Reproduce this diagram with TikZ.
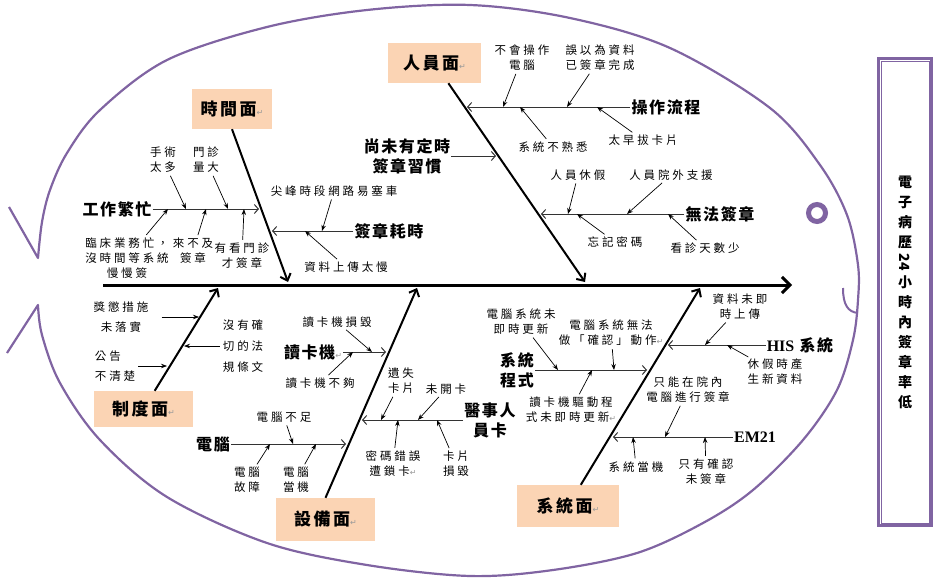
\documentclass[tikz,border=0pt]{standalone}
\usepackage{fontspec}
\setmainfont{Noto Sans CJK TC}
\newfontfamily\cjk{Noto Sans CJK TC}[LetterSpace=25]
\newfontfamily\cjkb{Noto Sans CJK TC}[LetterSpace=10]
\newfontfamily\cjkf{Noto Sans CJK TC}[LetterSpace=15]
\newfontfamily\timesfont{Liberation Serif}
\newfontfamily\symfont{DejaVu Sans}
\usetikzlibrary{arrows.meta}
\definecolor{fishpurple}{RGB}{128,100,162}
\definecolor{facepeach}{RGB}{251,212,180}
\newcommand{\crmark}{{\symfont\mdseries\color{black!40}\fontsize{8}{8}\selectfont ↵}}

\begin{document}
\begin{tikzpicture}[x=1pt, y=-1pt,
  face/.style={shape=rectangle, fill=facepeach, inner sep=0pt, font=\cjkf\fontsize{17}{20}\selectfont\bfseries},
  group/.style={align=center, inner sep=1pt, font=\cjkb\fontsize{16}{20}\selectfont\bfseries},
  cause/.style={align=center, inner sep=1pt, font=\cjk\fontsize{11.5}{15}\selectfont},
  effect/.style={draw=fishpurple, line width=3pt, minimum width=53pt, minimum height=467pt, align=center, font=\fontsize{14}{20}\selectfont\bfseries},
  bone/.style={line width=2pt, -{Straight Barb[length=6pt,width=11pt]}},
  branch/.style={line width=1pt, black!80, -{Straight Barb[length=4pt,width=9pt]}},
  push/.style={line width=0.7pt, shorten <=2pt, -{Stealth[length=6pt,width=4.5pt]}}]
\useasboundingbox (0,0) rectangle (942,586);

% fish body
\draw[fishpurple, line width=2.2pt, line join=round] (9,207) -- plot[smooth, tension=0.55] coordinates {(38,258) (42,222) (50,190) (67,153) (100,110) (167,60) (267,27) (367,10) (470,5) (570,18) (670,48) (770,108) (820,165) (847,215) (858,265) (858,300) (853,340) (837,390) (803,440) (753,490) (703,523) (637,553) (553,570) (470,576) (367,565) (267,543) (167,497) (100,440) (60,383) (42,335) (38,305)} -- (7,353);
\draw[fishpurple, line width=5pt] (817,213) circle (8.5);
\draw[fishpurple, line width=2pt] (843,288) .. controls (843,305) and (848,312) .. (858,313);

% effect
\node [effect] (N0) at (905,292) {電\\子\\病\\歷\\\phantom{歷}\\小\\時\\內\\簽\\章\\率\\低};
\node [rotate=-90, inner sep=0pt, font=\fontsize{14}{14}\selectfont\bfseries] (N0d) at (905,262) {24};
\draw[fishpurple, line width=0.8pt] ([xshift=4pt,yshift=-4pt]N0.north west) rectangle ([xshift=-4pt,yshift=4pt]N0.south east);

% spine
\coordinate (tail) at (103,285);
\coordinate (head) at (792,285);
\draw[line width=3pt, -{Straight Barb[length=8pt,width=16pt]}] (tail) -- (head);

% faces
\node [face, minimum width=80pt, minimum height=40pt] (T) at (232,109) {時間面\crmark};
\node [face, minimum width=93pt, minimum height=40pt] (P) at (434.5,63) {人員面\crmark};
\node [face, minimum width=99pt, minimum height=36pt] (R) at (143.5,409) {制度面\crmark};
\node [face, minimum width=99pt, minimum height=43pt] (E) at (325.5,519.5) {設備面\crmark};
\node [face, minimum width=102pt, minimum height=42pt] (S) at (568,506) {系統面\crmark};

\coordinate (TS) at (288,282);
\coordinate (PS) at (585,282);
\coordinate (RS) at (218,288);
\coordinate (ES) at (417,288);
\coordinate (SS) at (700,288);
\draw[bone] (T.south) -- (TS);
\draw[bone] (P) -- (PS);
\draw[bone] (R) -- (RS);
\draw[bone] (E.north) -- (ES);
\draw[bone] (S) -- (SS);

% time
\node [group] (T1) at (117,209) {工作繁忙};
\coordinate (T1x) at (259,209);
\draw[branch] (T1) -- (T1x);
\node [cause] (T1a) at (163,160) {手術\\太多};
\node [cause] (T1b) at (206,160) {門診\\量大};
\node [cause] (T1c) at (127,258) {臨床業務忙，\\沒時間等系統\\慢慢簽};
\node [cause] (T1d) at (193,251) {來不及\\簽章};
\node [cause] (T1e) at (242,256) {有看門診\\才簽章};
\coordinate (T1ax) at (186,209);
\coordinate (T1bx) at (228,209);
\coordinate (T1cx) at (168,209);
\coordinate (T1dx) at (206,209);
\coordinate (T1ex) at (244,209);
\draw[push] (T1a) -- (T1ax);
\draw[push] (T1b) -- (T1bx);
\draw[push] (T1c) -- (T1cx);
\draw[push] (T1d) -- (T1dx);
\draw[push] (T1e) -- (T1ex);

\node [group] (T2) at (389,231) {簽章耗時};
\coordinate (T2x) at (272,231);
\draw[branch] (T2) -- (T2x);
\node [cause] (T2a) at (334,191) {尖峰時段網路易塞車};
\node [cause] (T2b) at (346,267) {資料上傳太慢};
\coordinate (T2ax) at (322,231);
\coordinate (T2bx) at (305,231);
\draw[push] (T2a) -- (T2ax);
\draw[push] (T2b) -- (T2bx);

% people
\node [group] (P1) at (407,156) {尚未有定時\\簽章習慣};
\coordinate (P1x) at (496,156);
\draw[branch] (P1) -- (P1x);

\node [group] (P2) at (666,107) {操作流程};
\coordinate (P2x) at (467,107);
\draw[branch] (P2) -- (P2x);
\node [cause] (P2a) at (522,58) {不會操作\\電腦};
\node [cause] (P2b) at (600,58) {誤以為資料\\已簽章完成};
\node [cause] (P2c) at (553,147) {系統不熟悉};
\node [cause] (P2d) at (643,140) {太早拔卡片};
\coordinate (P2ax) at (503,107);
\coordinate (P2bx) at (567,107);
\coordinate (P2cx) at (520,107);
\coordinate (P2dx) at (597,107);
\draw[push] (P2a) -- (P2ax);
\draw[push] (P2b) -- (P2bx);
\draw[push] (P2c) -- (P2cx);
\draw[push] (P2d) -- (P2dx);

\node [group] (P3) at (720,214) {無法簽章};
\coordinate (P3x) at (541,214);
\draw[branch] (P3) -- (P3x);
\node [cause] (P3a) at (578,175) {人員休假};
\node [cause] (P3b) at (671,175) {人員院外支援};
\node [cause] (P3c) at (615,242) {忘記密碼};
\node [cause] (P3d) at (705,248) {看診天數少};
\coordinate (P3ax) at (568,214);
\coordinate (P3bx) at (627,214);
\coordinate (P3cx) at (577,214);
\coordinate (P3dx) at (668,214);
\draw[push] (P3a) -- (P3ax);
\draw[push] (P3b) -- (P3bx);
\draw[push] (P3c) -- (P3cx);
\draw[push] (P3d) -- (P3dx);

% rules
\node [cause, font=\cjk\fontsize{11.5}{20}\selectfont] (R1) at (121,317) {獎懲措施\\未落實};
\node [cause, align=left, font=\cjk\fontsize{11.5}{20}\selectfont] (R2) at (115,366) {公告\\不清楚};
\node [cause, font=\cjk\fontsize{11.5}{21}\selectfont] (R3) at (243,346) {沒有確\\切的法\\規條文};
\coordinate (R1x) at (199,317);
\coordinate (R2x) at (167,366);
\coordinate (R3x) at (184,346);
\draw[push, shorten <=12pt] (R1) -- (R1x);
\draw[push] (R2) -- (R2x);
\draw[push] (R3) -- (R3x);

% equipment
\node [group] (E1) at (313,352) {讀卡機\crmark};
\coordinate (E1x) at (386,352);
\draw[branch] (E1) -- (E1x);
\node [cause] (E1a) at (337,322) {讀卡機損毀};
\node [cause] (E1b) at (320,383) {讀卡機不夠};
\coordinate (E1ax) at (372,352);
\coordinate (E1bx) at (353,352);
\draw[push] (E1a) -- (E1ax);
\draw[push] (E1b) -- (E1bx);

\node [group] (E2) at (490,420) {醫事人\\員卡};
\coordinate (E2x) at (362,420);
\draw[branch] (E2) -- (E2x);
\node [cause] (E2a) at (401,381) {遺失\\卡片};
\node [cause] (E2b) at (446,389) {未開卡};
\node [cause] (E2c) at (393,464) {密碼錯誤\\遭鎖卡\crmark};
\node [cause] (E2d) at (456,464) {卡片\\損毀};
\coordinate (E2ax) at (381,420);
\coordinate (E2bx) at (418,420);
\coordinate (E2cx) at (398,420);
\coordinate (E2dx) at (437,420);
\draw[push] (E2a) -- (E2ax);
\draw[push] (E2b) -- (E2bx);
\draw[push] (E2c) -- (E2cx);
\draw[push] (E2d) -- (E2dx);

\node [group] (E3) at (213,444) {電腦};
\coordinate (E3x) at (346,444);
\draw[branch] (E3) -- (E3x);
\node [cause] (E3a) at (284,417) {電腦不足};
\node [cause] (E3b) at (247,480) {電腦\\故障};
\node [cause] (E3c) at (296,480) {電腦\\當機};
\coordinate (E3ax) at (293,444);
\coordinate (E3bx) at (270,444);
\coordinate (E3cx) at (316,444);
\draw[push] (E3a) -- (E3ax);
\draw[push] (E3b) -- (E3bx);
\draw[push] (E3c) -- (E3cx);

% system
\node [group] (S1) at (517,370) {系統\\程式};
\coordinate (S1x) at (647,370);
\draw[branch] (S1) -- (S1x);
\node [cause] (S1a) at (521,322) {電腦系統未\\即時更新};
\node [cause] (S1b) at (611,333) {電腦系統無法\\做「確認」動作\crmark};
\node [cause] (S1c) at (571,410) {讀卡機驅動程\\式未即時更新\crmark};
\coordinate (S1ax) at (558,370);
\coordinate (S1bx) at (614,370);
\coordinate (S1cx) at (592,370);
\draw[push] (S1a) -- (S1ax);
\draw[push] (S1b) -- (S1bx);
\draw[push] (S1c) -- (S1cx);

\node [group] (S2) at (800,345) {{\timesfont HIS} 系統};
\coordinate (S2x) at (668,345);
\draw[branch] (S2) -- (S2x);
\node [cause] (S2a) at (740,307) {資料未即\\時上傳};
\node [cause] (S2b) at (775,372) {休假時產\\生新資料};
\coordinate (S2ax) at (705,345);
\coordinate (S2bx) at (727,345);
\draw[push] (S2a) -- (S2ax);
\draw[push] (S2b) -- (S2bx);

\node [group] (S3) at (755,437) {{\timesfont EM21}};
\coordinate (S3x) at (613,437);
\draw[branch] (S3) -- (S3x);
\node [cause] (S3a) at (688,390) {只能在院內\\電腦進行簽章};
\node [cause] (S3b) at (636,467) {系統當機};
\node [cause] (S3c) at (706,472) {只有確認\\未簽章};
\coordinate (S3ax) at (665,437);
\coordinate (S3bx) at (633,437);
\coordinate (S3cx) at (705,437);
\draw[push] (S3a) -- (S3ax);
\draw[push] (S3b) -- (S3bx);
\draw[push] (S3c) -- (S3cx);
\end{tikzpicture}
\end{document}
